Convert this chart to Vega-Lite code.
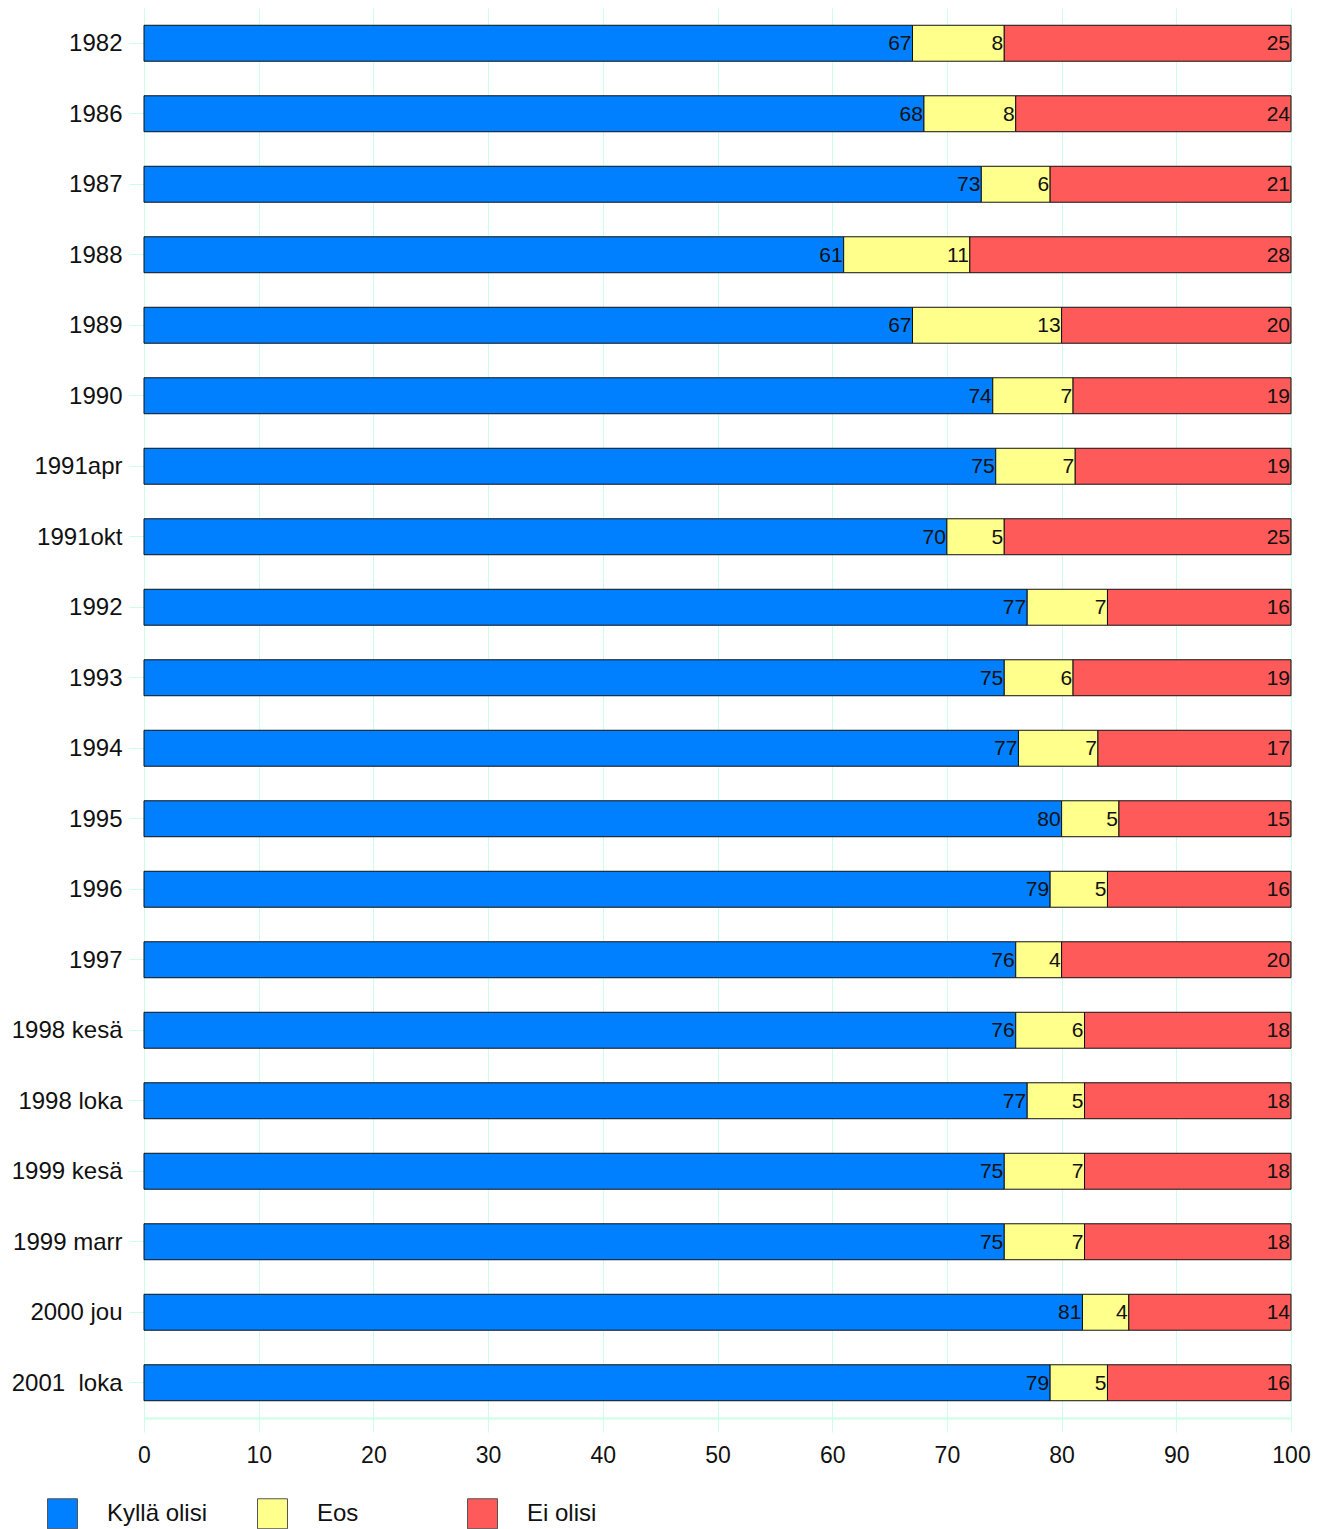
{
  "$schema": "https://vega.github.io/schema/vega-lite/v6.json",
  "autosize": {"type": "none"},
  "padding": {"left": 144, "top": 8, "right": 37, "bottom": 111},
  "width": 1147,
  "height": 1410,
  "background": "white",
  "config": {
    "font": "Liberation Sans",
    "view": {"stroke": null}
  },
  "data": {
    "values": [
      {"year": "1982", "cat": "Kyllä olisi", "o": 1, "v": 67},
      {"year": "1982", "cat": "Eos", "o": 2, "v": 8},
      {"year": "1982", "cat": "Ei olisi", "o": 3, "v": 25},
      {"year": "1986", "cat": "Kyllä olisi", "o": 1, "v": 68},
      {"year": "1986", "cat": "Eos", "o": 2, "v": 8},
      {"year": "1986", "cat": "Ei olisi", "o": 3, "v": 24},
      {"year": "1987", "cat": "Kyllä olisi", "o": 1, "v": 73},
      {"year": "1987", "cat": "Eos", "o": 2, "v": 6},
      {"year": "1987", "cat": "Ei olisi", "o": 3, "v": 21},
      {"year": "1988", "cat": "Kyllä olisi", "o": 1, "v": 61},
      {"year": "1988", "cat": "Eos", "o": 2, "v": 11},
      {"year": "1988", "cat": "Ei olisi", "o": 3, "v": 28},
      {"year": "1989", "cat": "Kyllä olisi", "o": 1, "v": 67},
      {"year": "1989", "cat": "Eos", "o": 2, "v": 13},
      {"year": "1989", "cat": "Ei olisi", "o": 3, "v": 20},
      {"year": "1990", "cat": "Kyllä olisi", "o": 1, "v": 74},
      {"year": "1990", "cat": "Eos", "o": 2, "v": 7},
      {"year": "1990", "cat": "Ei olisi", "o": 3, "v": 19},
      {"year": "1991apr", "cat": "Kyllä olisi", "o": 1, "v": 75},
      {"year": "1991apr", "cat": "Eos", "o": 2, "v": 7},
      {"year": "1991apr", "cat": "Ei olisi", "o": 3, "v": 19},
      {"year": "1991okt", "cat": "Kyllä olisi", "o": 1, "v": 70},
      {"year": "1991okt", "cat": "Eos", "o": 2, "v": 5},
      {"year": "1991okt", "cat": "Ei olisi", "o": 3, "v": 25},
      {"year": "1992", "cat": "Kyllä olisi", "o": 1, "v": 77},
      {"year": "1992", "cat": "Eos", "o": 2, "v": 7},
      {"year": "1992", "cat": "Ei olisi", "o": 3, "v": 16},
      {"year": "1993", "cat": "Kyllä olisi", "o": 1, "v": 75},
      {"year": "1993", "cat": "Eos", "o": 2, "v": 6},
      {"year": "1993", "cat": "Ei olisi", "o": 3, "v": 19},
      {"year": "1994", "cat": "Kyllä olisi", "o": 1, "v": 77},
      {"year": "1994", "cat": "Eos", "o": 2, "v": 7},
      {"year": "1994", "cat": "Ei olisi", "o": 3, "v": 17},
      {"year": "1995", "cat": "Kyllä olisi", "o": 1, "v": 80},
      {"year": "1995", "cat": "Eos", "o": 2, "v": 5},
      {"year": "1995", "cat": "Ei olisi", "o": 3, "v": 15},
      {"year": "1996", "cat": "Kyllä olisi", "o": 1, "v": 79},
      {"year": "1996", "cat": "Eos", "o": 2, "v": 5},
      {"year": "1996", "cat": "Ei olisi", "o": 3, "v": 16},
      {"year": "1997", "cat": "Kyllä olisi", "o": 1, "v": 76},
      {"year": "1997", "cat": "Eos", "o": 2, "v": 4},
      {"year": "1997", "cat": "Ei olisi", "o": 3, "v": 20},
      {"year": "1998 kesä", "cat": "Kyllä olisi", "o": 1, "v": 76},
      {"year": "1998 kesä", "cat": "Eos", "o": 2, "v": 6},
      {"year": "1998 kesä", "cat": "Ei olisi", "o": 3, "v": 18},
      {"year": "1998 loka", "cat": "Kyllä olisi", "o": 1, "v": 77},
      {"year": "1998 loka", "cat": "Eos", "o": 2, "v": 5},
      {"year": "1998 loka", "cat": "Ei olisi", "o": 3, "v": 18},
      {"year": "1999 kesä", "cat": "Kyllä olisi", "o": 1, "v": 75},
      {"year": "1999 kesä", "cat": "Eos", "o": 2, "v": 7},
      {"year": "1999 kesä", "cat": "Ei olisi", "o": 3, "v": 18},
      {"year": "1999 marr", "cat": "Kyllä olisi", "o": 1, "v": 75},
      {"year": "1999 marr", "cat": "Eos", "o": 2, "v": 7},
      {"year": "1999 marr", "cat": "Ei olisi", "o": 3, "v": 18},
      {"year": "2000 jou", "cat": "Kyllä olisi", "o": 1, "v": 81},
      {"year": "2000 jou", "cat": "Eos", "o": 2, "v": 4},
      {"year": "2000 jou", "cat": "Ei olisi", "o": 3, "v": 14},
      {"year": "2001 \u00a0loka", "cat": "Kyllä olisi", "o": 1, "v": 79},
      {"year": "2001 \u00a0loka", "cat": "Eos", "o": 2, "v": 5},
      {"year": "2001 \u00a0loka", "cat": "Ei olisi", "o": 3, "v": 16}
    ]
  },
  "transform": [
    {"stack": "v", "groupby": ["year"], "sort": [{"field": "o", "order": "ascending"}], "offset": "normalize", "as": ["x0", "x1"]}
  ],
  "encoding": {
    "y": {
      "field": "year",
      "type": "nominal",
      "sort": null,
      "scale": {"paddingInner": 0.49, "paddingOuter": 0.245},
      "axis": {
        "title": null,
        "labelFontSize": 24,
        "labelColor": "#111",
        "labelPadding": 7,
        "labelOffset": 1,
        "tickSize": 15,
        "tickColor": "#CCFFE6",
        "domainColor": "#CCFFE6",
        "domainWidth": 1,
        "grid": false
      }
    }
  },
  "layer": [
    {
      "mark": {"type": "bar", "stroke": "#111", "strokeWidth": 1},
      "encoding": {
        "x": {
          "field": "x0",
          "type": "quantitative",
          "scale": {"domain": [0, 1], "nice": false},
          "axis": {
            "title": null,
            "values": [0, 0.1, 0.2, 0.3, 0.4, 0.5, 0.6, 0.7, 0.8, 0.9, 1],
            "labelExpr": "format(datum.value*100, 'd')",
            "labelFlush": false,
            "labelFontSize": 23,
            "labelColor": "#111",
            "labelPadding": 12,
            "tickSize": 14,
            "tickColor": "#CCFFE6",
            "domainColor": "#CCFFE6",
            "domainWidth": 2,
            "grid": true,
            "gridColor": "#CCFFE6",
            "gridWidth": 1
          }
        },
        "x2": {"field": "x1"},
        "color": {
          "field": "cat",
          "type": "nominal",
          "scale": {
            "domain": ["Kyllä olisi", "Eos", "Ei olisi"],
            "range": ["#0080FF", "#FFFF8C", "#FF5A5A"]
          },
          "legend": {
            "title": null,
            "orient": "none",
            "legendX": -97,
            "legendY": 1490,
            "direction": "horizontal",
            "gridAlign": "all",
            "columnPadding": 47,
            "symbolType": "square",
            "symbolSize": 900,
            "symbolStrokeColor": "#555",
            "symbolStrokeWidth": 1,
            "symbolOpacity": 1,
            "labelFontSize": 24,
            "labelColor": "#111",
            "labelOffset": 29
          }
        }
      }
    },
    {
      "mark": {"type": "text", "align": "right", "baseline": "middle", "dx": -1, "dy": 1, "fontSize": 21, "color": "#111"},
      "encoding": {
        "x": {"field": "x1", "type": "quantitative"},
        "text": {"field": "v", "type": "quantitative"}
      }
    }
  ]
}
